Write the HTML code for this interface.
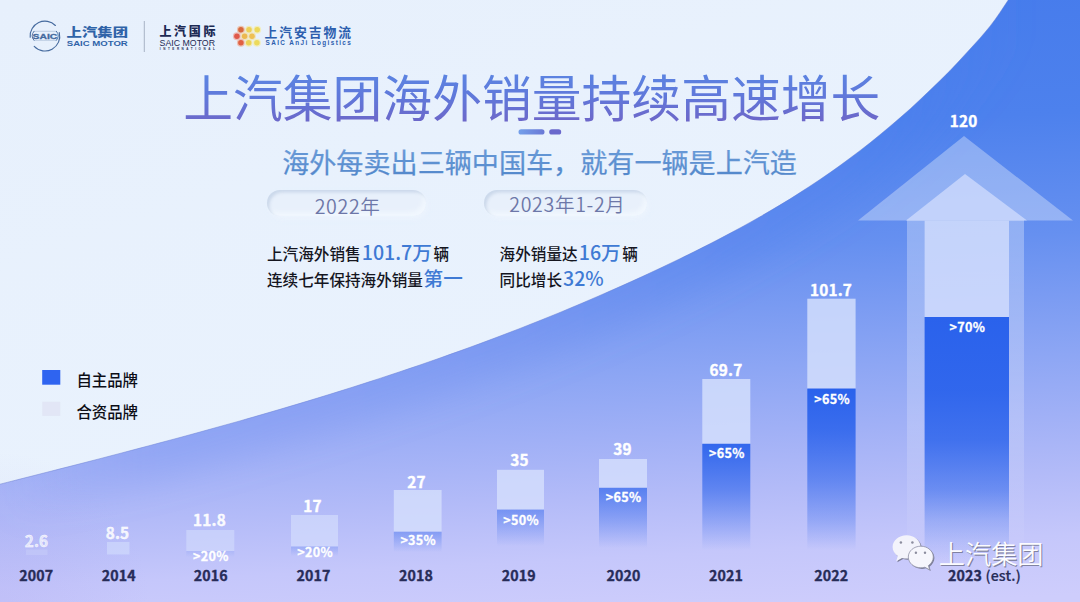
<!DOCTYPE html>
<html lang="zh-CN">
<head>
<meta charset="utf-8">
<title>上汽集团海外销量持续高速增长</title>
<style>
html,body{margin:0;padding:0;background:#e9f2fc;}
body{width:1080px;height:602px;overflow:hidden;position:relative;}
svg{display:block;position:absolute;left:0;top:0;}
.cn{font-family:"Noto Sans CJK SC","Liberation Sans",sans-serif;}
.la{font-family:"Liberation Sans","Noto Sans CJK SC",sans-serif;}
.val{font-size:15.3px;font-weight:700;fill:#fff;text-anchor:middle;stroke:#fff;stroke-width:0.4px;letter-spacing:0.2px;}
.pct{font-size:12.6px;font-weight:700;fill:#fff;text-anchor:middle;letter-spacing:0.3px;stroke:#fff;stroke-width:0.3px;}
.pill{position:absolute;box-sizing:border-box;border-radius:14px;background:#e8f0fb;text-align:center;font-size:19.6px;font-weight:350;letter-spacing:0.65px;color:#6d77a8;white-space:nowrap;
 box-shadow:inset 2.5px 2.5px 3px rgba(150,172,205,.34), inset -3px -4px 5px rgba(244,249,255,.75), 2px 3px 5px rgba(244,249,255,.35);}
.hl{font-size:19.6px;font-weight:500;fill:#3f7ad4;}
.yr{font-size:14.2px;font-weight:700;fill:#272c58;text-anchor:middle;stroke:#272c58;stroke-width:0.35px;letter-spacing:0.15px;}
</style>
</head>
<body>
<svg width="1080" height="602" viewBox="0 0 1080 602">
<defs>
  <linearGradient id="gLight" x1="0" y1="0" x2="0.6" y2="1">
    <stop offset="0" stop-color="#e7f0fc"/>
    <stop offset="1" stop-color="#eaf3fe"/>
  </linearGradient>
  <linearGradient id="gBlue" gradientUnits="userSpaceOnUse" x1="0" y1="45" x2="30" y2="647">
    <stop offset="0" stop-color="#477cec"/>
    <stop offset="0.2" stop-color="#4d81ed"/>
    <stop offset="0.4" stop-color="#6690f0"/>
    <stop offset="0.5" stop-color="#7a9bf2"/>
    <stop offset="0.6" stop-color="#8da6f4"/>
    <stop offset="0.7" stop-color="#a0b0f6"/>
    <stop offset="0.8" stop-color="#b3bbf8"/>
    <stop offset="0.9" stop-color="#c5c7fb"/>
    <stop offset="1" stop-color="#cecdfc"/>
  </linearGradient>
  <linearGradient id="gShaft" gradientUnits="userSpaceOnUse" x1="0" y1="220" x2="0" y2="565">
    <stop offset="0" stop-color="#fff" stop-opacity="0.3"/>
    <stop offset="0.6" stop-color="#fff" stop-opacity="0.2"/>
    <stop offset="1" stop-color="#fff" stop-opacity="0"/>
  </linearGradient>
    <linearGradient id="gb2" gradientUnits="userSpaceOnUse" x1="0" y1="551" x2="0" y2="557"><stop offset="0.000" stop-color="#2a62ec" stop-opacity="0.1"/><stop offset="1.000" stop-color="#2a62ec" stop-opacity="0"/></linearGradient>
  <linearGradient id="gb3" gradientUnits="userSpaceOnUse" x1="0" y1="546.5" x2="0" y2="556"><stop offset="0.000" stop-color="#2a62ec" stop-opacity="0.22"/><stop offset="1.000" stop-color="#2a62ec" stop-opacity="0"/></linearGradient>
  <linearGradient id="gb4" gradientUnits="userSpaceOnUse" x1="0" y1="531.7" x2="0" y2="552"><stop offset="0.000" stop-color="#2a62ec" stop-opacity="0.38"/><stop offset="1.000" stop-color="#2a62ec" stop-opacity="0"/></linearGradient>
  <linearGradient id="gb5" gradientUnits="userSpaceOnUse" x1="0" y1="509.6" x2="0" y2="546"><stop offset="0.000" stop-color="#2a62ec" stop-opacity="0.46"/><stop offset="1.000" stop-color="#2a62ec" stop-opacity="0"/></linearGradient>
  <linearGradient id="gb6" gradientUnits="userSpaceOnUse" x1="0" y1="487.8" x2="0" y2="548"><stop offset="0.000" stop-color="#2a62ec" stop-opacity="0.66"/><stop offset="0.535" stop-color="#2a62ec" stop-opacity="0.33"/><stop offset="1.000" stop-color="#2a62ec" stop-opacity="0"/></linearGradient>
  <linearGradient id="gb7" gradientUnits="userSpaceOnUse" x1="0" y1="443.8" x2="0" y2="550"><stop offset="0.000" stop-color="#2a62ec" stop-opacity="0.93"/><stop offset="0.435" stop-color="#2a62ec" stop-opacity="0.6"/><stop offset="0.718" stop-color="#2a62ec" stop-opacity="0.3"/><stop offset="1.000" stop-color="#2a62ec" stop-opacity="0"/></linearGradient>
  <linearGradient id="gb8" gradientUnits="userSpaceOnUse" x1="0" y1="388.6" x2="0" y2="550"><stop offset="0.000" stop-color="#2a62ec" stop-opacity="1"/><stop offset="0.257" stop-color="#2a62ec" stop-opacity="0.86"/><stop offset="0.566" stop-color="#2a62ec" stop-opacity="0.58"/><stop offset="0.814" stop-color="#2a62ec" stop-opacity="0.28"/><stop offset="1.000" stop-color="#2a62ec" stop-opacity="0"/></linearGradient>
  <linearGradient id="gb9" gradientUnits="userSpaceOnUse" x1="0" y1="317" x2="0" y2="562"><stop offset="0.000" stop-color="#2a62ec" stop-opacity="1"/><stop offset="0.298" stop-color="#2a62ec" stop-opacity="0.95"/><stop offset="0.502" stop-color="#2a62ec" stop-opacity="0.84"/><stop offset="0.706" stop-color="#2a62ec" stop-opacity="0.56"/><stop offset="0.829" stop-color="#2a62ec" stop-opacity="0.27"/><stop offset="0.931" stop-color="#2a62ec" stop-opacity="0.1"/><stop offset="1.000" stop-color="#2a62ec" stop-opacity="0"/></linearGradient>

  <linearGradient id="gTitle" x1="0" y1="0" x2="0.04" y2="1">
    <stop offset="0.12" stop-color="#5a88e4"/>
    <stop offset="0.55" stop-color="#6078da"/>
    <stop offset="0.95" stop-color="#6f64c6"/>
  </linearGradient>
  <linearGradient id="gSub" x1="0" y1="0" x2="0" y2="1">
    <stop offset="0.1" stop-color="#6c9edb"/>
    <stop offset="0.9" stop-color="#5287ca"/>
  </linearGradient>
  <linearGradient id="gDeco" x1="0" y1="0" x2="1" y2="0">
    <stop offset="0" stop-color="#74a0ea"/>
    <stop offset="1" stop-color="#6a78d6"/>
  </linearGradient>
  <linearGradient id="gPill" x1="0" y1="0" x2="0.12" y2="1">
    <stop offset="0" stop-color="#d2ddee"/>
    <stop offset="0.28" stop-color="#e3ebf7"/>
    <stop offset="0.6" stop-color="#ecf3fc"/>
    <stop offset="1" stop-color="#f4f9ff"/>
  </linearGradient>
  <radialGradient id="gCorner" gradientUnits="userSpaceOnUse" cx="0" cy="602" r="150">
    <stop offset="0" stop-color="#a89fec" stop-opacity="0.2"/>
    <stop offset="1" stop-color="#a49ceb" stop-opacity="0"/>
  </radialGradient>
  <clipPath id="cpBlue"><path d="M0,484.2 C13,480.8 27,477.4 40,474.0 C53,470.6 67,467.2 80,463.8 C93,460.4 107,456.9 120,453.4 C133,449.9 147,446.4 160,442.8 C173,439.3 187,435.7 200,432.0 C213,428.3 227,424.6 240,420.9 C253,417.1 267,413.2 280,409.3 C293,405.4 307,401.4 320,397.3 C333,393.2 347,389.1 360,384.8 C373,380.5 387,376.2 400,371.7 C413,367.3 427,362.7 440,358.0 C453,353.3 467,348.5 480,343.6 C493,338.6 507,333.6 520,328.4 C533,323.2 547,317.8 560,312.4 C573,306.9 587,301.2 600,295.4 C613,289.6 627,283.7 640,277.6 C653,271.4 667,265.2 680,258.7 C693,252.2 707,245.6 720,238.6 C733,231.6 747,224.4 760,216.8 C773,209.1 787,201.2 800,192.6 C813,184.1 827,175.1 840,165.5 C853,155.8 867,145.7 880,134.7 C893,123.8 907,112.2 920,99.7 C933,87.2 947,74.5 960,60.0 C973,45.4 987,32.0 1000,12.4 C1013,-7.1 1027,-27.6 1040,-57.5 L1080,-50 L1080,602 L0,602 Z"/></clipPath>
  <linearGradient id="gHug" gradientUnits="userSpaceOnUse" x1="0" y1="0" x2="1080" y2="0">
    <stop offset="0" stop-color="#7a93f1" stop-opacity="0"/>
    <stop offset="0.14" stop-color="#7a93f1" stop-opacity="0.3"/>
    <stop offset="0.45" stop-color="#6f8df0" stop-opacity="0.3"/>
    <stop offset="0.68" stop-color="#5682ee" stop-opacity="0.34"/>
    <stop offset="0.82" stop-color="#4a7eed" stop-opacity="0.35"/>
    <stop offset="0.95" stop-color="#4a7eed" stop-opacity="0"/>
  </linearGradient>
  <filter id="fHug" x="-10%" y="-30%" width="120%" height="160%"><feGaussianBlur stdDeviation="16"/></filter>
  <filter id="fPill" x="-5%" y="-20%" width="110%" height="140%"><feGaussianBlur stdDeviation="1.3"/></filter>
  <filter id="fDot2" x="-20%" y="-20%" width="140%" height="140%"><feGaussianBlur stdDeviation="0.35"/></filter>
  <filter id="fDot" x="-50%" y="-50%" width="200%" height="200%"><feGaussianBlur stdDeviation="0.7"/></filter>

</defs>
<!-- BACKGROUND -->
<rect width="1080" height="602" fill="url(#gLight)"/>
<path d="M0,484.2 C13,480.8 27,477.4 40,474.0 C53,470.6 67,467.2 80,463.8 C93,460.4 107,456.9 120,453.4 C133,449.9 147,446.4 160,442.8 C173,439.3 187,435.7 200,432.0 C213,428.3 227,424.6 240,420.9 C253,417.1 267,413.2 280,409.3 C293,405.4 307,401.4 320,397.3 C333,393.2 347,389.1 360,384.8 C373,380.5 387,376.2 400,371.7 C413,367.3 427,362.7 440,358.0 C453,353.3 467,348.5 480,343.6 C493,338.6 507,333.6 520,328.4 C533,323.2 547,317.8 560,312.4 C573,306.9 587,301.2 600,295.4 C613,289.6 627,283.7 640,277.6 C653,271.4 667,265.2 680,258.7 C693,252.2 707,245.6 720,238.6 C733,231.6 747,224.4 760,216.8 C773,209.1 787,201.2 800,192.6 C813,184.1 827,175.1 840,165.5 C853,155.8 867,145.7 880,134.7 C893,123.8 907,112.2 920,99.7 C933,87.2 947,74.5 960,60.0 C973,45.4 987,32.0 1000,12.4 C1013,-7.1 1027,-27.6 1040,-57.5 L1080,-50 L1080,602 L0,602 Z" fill="url(#gBlue)"/>
<path d="M0,484.2 C13,480.8 27,477.4 40,474.0 C53,470.6 67,467.2 80,463.8 C93,460.4 107,456.9 120,453.4 C133,449.9 147,446.4 160,442.8 C173,439.3 187,435.7 200,432.0 C213,428.3 227,424.6 240,420.9 C253,417.1 267,413.2 280,409.3 C293,405.4 307,401.4 320,397.3 C333,393.2 347,389.1 360,384.8 C373,380.5 387,376.2 400,371.7 C413,367.3 427,362.7 440,358.0 C453,353.3 467,348.5 480,343.6 C493,338.6 507,333.6 520,328.4 C533,323.2 547,317.8 560,312.4 C573,306.9 587,301.2 600,295.4 C613,289.6 627,283.7 640,277.6 C653,271.4 667,265.2 680,258.7 C693,252.2 707,245.6 720,238.6 C733,231.6 747,224.4 760,216.8 C773,209.1 787,201.2 800,192.6 C813,184.1 827,175.1 840,165.5 C853,155.8 867,145.7 880,134.7 C893,123.8 907,112.2 920,99.7 C933,87.2 947,74.5 960,60.0 C973,45.4 987,32.0 1000,12.4 C1013,-7.1 1027,-27.6 1040,-57.5" fill="none" stroke="#6478cc" stroke-width="0.9" stroke-opacity="0.5"/>
<g clip-path="url(#cpBlue)"><path d="M0,484.2 C13,480.8 27,477.4 40,474.0 C53,470.6 67,467.2 80,463.8 C93,460.4 107,456.9 120,453.4 C133,449.9 147,446.4 160,442.8 C173,439.3 187,435.7 200,432.0 C213,428.3 227,424.6 240,420.9 C253,417.1 267,413.2 280,409.3 C293,405.4 307,401.4 320,397.3 C333,393.2 347,389.1 360,384.8 C373,380.5 387,376.2 400,371.7 C413,367.3 427,362.7 440,358.0 C453,353.3 467,348.5 480,343.6 C493,338.6 507,333.6 520,328.4 C533,323.2 547,317.8 560,312.4 C573,306.9 587,301.2 600,295.4 C613,289.6 627,283.7 640,277.6 C653,271.4 667,265.2 680,258.7 C693,252.2 707,245.6 720,238.6 C733,231.6 747,224.4 760,216.8 C773,209.1 787,201.2 800,192.6 C813,184.1 827,175.1 840,165.5 C853,155.8 867,145.7 880,134.7 C893,123.8 907,112.2 920,99.7 C933,87.2 947,74.5 960,60.0 C973,45.4 987,32.0 1000,12.4 C1013,-7.1 1027,-27.6 1040,-57.5" fill="none" stroke="url(#gHug)" stroke-width="70" filter="url(#fHug)"/></g>
<rect x="0" y="440" width="200" height="162" fill="url(#gCorner)"/>
<!-- ARROW -->
<g id="arrow">
  <polygon points="964,136 1073,220.6 858,220.6" fill="#fff" fill-opacity="0.33"/>
  <rect x="907" y="220" width="117" height="345" fill="url(#gShaft)"/>
  <polygon points="965,174 1027,220.6 906,220.6" fill="#d6e0fd" fill-opacity="0.7"/>
  <rect x="924.6" y="220.6" width="84.4" height="96.4" fill="#d6e0fd" fill-opacity="0.74"/>
</g>
<!-- BARS -->
<g id="bars">
  <rect x="26" y="549.5" width="21.5" height="5.5" fill="#d6e0fd" fill-opacity="0.25"/>
  <rect x="107" y="542" width="22.5" height="12.5" fill="#d6e0fd" fill-opacity="0.55"/>
  <rect x="186.3" y="530" width="48.0" height="21.0" fill="#d6e0fd" fill-opacity="0.52"/>
  <rect x="186.3" y="551" width="48.0" height="6.0" fill="url(#gb2)"/>
  <rect x="291" y="515" width="47.0" height="31.5" fill="#d6e0fd" fill-opacity="0.62"/>
  <rect x="291" y="546.5" width="47.0" height="9.5" fill="url(#gb3)"/>
  <rect x="393.8" y="490" width="47.8" height="41.7" fill="#d6e0fd" fill-opacity="0.78"/>
  <rect x="393.8" y="531.7" width="47.8" height="20.3" fill="url(#gb4)"/>
  <rect x="497" y="469.8" width="47.0" height="39.8" fill="#d6e0fd" fill-opacity="0.8"/>
  <rect x="497" y="509.6" width="47.0" height="36.4" fill="url(#gb5)"/>
  <rect x="599" y="459" width="48.0" height="28.8" fill="#d6e0fd" fill-opacity="0.8"/>
  <rect x="599" y="487.8" width="48.0" height="60.2" fill="url(#gb6)"/>
  <rect x="702.3" y="379" width="48.0" height="64.8" fill="#d6e0fd" fill-opacity="0.82"/>
  <rect x="702.3" y="443.8" width="48.0" height="106.2" fill="url(#gb7)"/>
  <rect x="807.3" y="298.7" width="48.3" height="89.9" fill="#d6e0fd" fill-opacity="0.82"/>
  <rect x="807.3" y="388.6" width="48.3" height="161.4" fill="url(#gb8)"/>
  <rect x="924.6" y="317" width="84.4" height="245.0" fill="url(#gb9)"/>
</g>
<!-- BAR LABELS -->
<g id="labels">
  <text x="36.5" y="547" class="cn val" fill-opacity="0.62">2.6</text>
  <text x="36.3" y="581.2" class="cn yr">2007</text>
  <text x="117.5" y="539" class="cn val" fill-opacity="0.85">8.5</text>
  <text x="118.7" y="581.2" class="cn yr">2014</text>
  <text x="209.5" y="525.6" class="cn val" fill-opacity="0.95">11.8</text>
  <text x="210.8" y="561.3" class="cn pct">&gt;20%</text>
  <text x="210.7" y="581.2" class="cn yr">2016</text>
  <text x="312.5" y="511.5" class="cn val" fill-opacity="1">17</text>
  <text x="315.0" y="557.4" class="cn pct">&gt;20%</text>
  <text x="313.5" y="581.2" class="cn yr">2017</text>
  <text x="416.5" y="487.8" class="cn val" fill-opacity="1">27</text>
  <text x="418.2" y="545" class="cn pct">&gt;35%</text>
  <text x="416" y="581.2" class="cn yr">2018</text>
  <text x="519.5" y="466" class="cn val" fill-opacity="1">35</text>
  <text x="521.0" y="524.5" class="cn pct">&gt;50%</text>
  <text x="518.7" y="581.2" class="cn yr">2019</text>
  <text x="622.5" y="455.4" class="cn val" fill-opacity="1">39</text>
  <text x="623.5" y="502.4" class="cn pct">&gt;65%</text>
  <text x="623.5" y="581.2" class="cn yr">2020</text>
  <text x="726" y="376" class="cn val" fill-opacity="1">69.7</text>
  <text x="726.8" y="457.6" class="cn pct">&gt;65%</text>
  <text x="726" y="581.2" class="cn yr">2021</text>
  <text x="831" y="296" class="cn val" fill-opacity="1">101.7</text>
  <text x="832.0" y="403.5" class="cn pct">&gt;65%</text>
  <text x="831.3" y="581.2" class="cn yr">2022</text>
  <text x="963.6" y="126.6" class="cn val" fill-opacity="1">120</text>
  <text x="967.3" y="332" class="cn pct">&gt;70%</text>
  <text x="948" y="581.2" class="cn yr" style="text-anchor:start">2023 <tspan font-weight="500" stroke-width="0.2">(est.)</tspan></text>
</g>

<g id="logo-saic">
  <g fill="none" stroke="#456a9e" stroke-width="1.1" stroke-linecap="round">
    <path d="M30.2,37.2 A14.8,14.8 0 0 1 55.4,25.5"/>
    <path d="M59.3,32.6 A14.8,14.8 0 0 1 34.2,46.4"/>
    <path d="M34,31.3 Q30,35.8 34,40.3 M56.4,31.3 Q60.4,35.8 56.4,40.3" stroke-width="0.9"/><path d="M34,31.3 H56.4 M34,40.3 H56.4" stroke-width="0.6" stroke-opacity="0.45"/>
  </g>
  <text class="la" x="32.5" y="38.6" font-size="7.9" font-weight="700" fill="#456a9e" stroke="#456a9e" stroke-width="0.3" textLength="24.8" lengthAdjust="spacingAndGlyphs">SAIC</text>
  <text class="cn" x="66.6" y="36.7" font-size="12" font-weight="900" fill="#2f63a8" textLength="61.4" lengthAdjust="spacingAndGlyphs">上汽集团</text>
  <text class="la" x="66.8" y="45.8" font-size="6.7" font-weight="700" fill="#2f63a8" textLength="61" lengthAdjust="spacingAndGlyphs">SAIC MOTOR</text>
</g>
<line x1="144.3" y1="21" x2="144.3" y2="52" stroke="#98a2b6" stroke-width="0.8"/>
<g id="logo-intl" fill="#1c2a54">
  <text class="cn" x="159.4" y="35.5" font-size="12" font-weight="900" textLength="56" lengthAdjust="spacing">上汽国际</text>
  <text class="la" x="159.6" y="45.8" font-size="8.3" font-weight="400" textLength="55.4" lengthAdjust="spacingAndGlyphs">SAIC MOTOR</text>
  <text class="la" x="159.8" y="50" font-size="3" font-weight="700" textLength="55" lengthAdjust="spacing">INTERNATIONAL</text>
</g>
<g id="logo-anji">
  <g filter="url(#fDot)" opacity="0.55">
    <circle cx="240.9" cy="29.8" r="4" fill="#f0a070"/><circle cx="249" cy="29.8" r="4" fill="#f8e68a"/><circle cx="257.2" cy="29.8" r="4" fill="#f8ec90"/>
    <circle cx="236.9" cy="36.3" r="4" fill="#f09080"/><circle cx="244.6" cy="36.3" r="4" fill="#f8d888"/><circle cx="252" cy="36.3" r="4" fill="#f8dc88"/>
    <circle cx="240.9" cy="42.8" r="4" fill="#f09878"/><circle cx="248.7" cy="42.8" r="4" fill="#f8e68a"/><circle cx="256.9" cy="42.8" r="4" fill="#f8ec90"/>
  </g>
  <g filter="url(#fDot2)"><circle cx="240.9" cy="29.8" r="2.75" fill="#d8683e"/><circle cx="249" cy="29.8" r="2.75" fill="#ecd056"/><circle cx="257.2" cy="29.8" r="2.75" fill="#ecd85a"/>
  <circle cx="236.9" cy="36.3" r="2.75" fill="#df584a"/><circle cx="244.6" cy="36.3" r="2.75" fill="#ecb850"/><circle cx="252" cy="36.3" r="2.75" fill="#eec052"/>
  <circle cx="240.9" cy="42.8" r="2.75" fill="#e06042"/><circle cx="248.7" cy="42.8" r="2.75" fill="#ecd256"/><circle cx="256.9" cy="42.8" r="2.75" fill="#ecda5c"/></g>
  <text class="cn" x="264.4" y="37.2" font-size="12.8" font-weight="700" fill="#2c5eae" textLength="86.6" lengthAdjust="spacing">上汽安吉物流</text>
  <text class="la" x="265.6" y="45.1" font-size="6.4" font-weight="700" fill="#2c5eae" textLength="85.2" lengthAdjust="spacing">SAIC AnJi Logistics</text>
</g>


<g id="title">
  <text class="cn" x="183.2" y="116.8" font-size="49.8" font-weight="400" fill="url(#gTitle)">上汽集团海外销量持续高速增长</text>
  <rect x="518.5" y="129.3" width="26" height="5.3" rx="2.65" fill="url(#gDeco)"/>
  <rect x="549.2" y="129.3" width="12" height="5.3" rx="2.65" fill="#6a68cc"/>
  <text class="cn" x="282.2" y="172.5" font-size="27.1" font-weight="400" fill="url(#gSub)" stroke="#5f92d2" stroke-width="0.25">海外每卖出三辆中国车，就有一辆是上汽造</text>
</g>

<g id="copy" class="cn" font-size="15.6" font-weight="500" fill="#15161f">
  <text x="267" y="260">上汽海外销售<tspan class="hl" dx="1.2">101.7万</tspan><tspan dx="1.6">辆</tspan></text>
  <text x="267" y="286">连续七年保持海外销量<tspan class="hl" dx="0.6">第一</tspan></text>
  <text x="499.6" y="260">海外销量达<tspan class="hl" dx="1.2">16万</tspan><tspan dx="1.6">辆</tspan></text>
  <text x="499.6" y="285.5">同比增长<tspan class="hl" dx="1">32%</tspan></text>
</g>
<g id="legend" class="cn" font-size="15.4" font-weight="500" fill="#0c0d16">
  <rect x="42.2" y="370" width="18.1" height="14.7" fill="#2f64f0"/>
  <rect x="42.2" y="401.7" width="18.1" height="14.2" fill="#e2e6f6"/>
  <text x="76.4" y="386">自主品牌</text>
  <text x="76.4" y="418.3">合资品牌</text>
</g>


<g id="watermark">
  <g transform="translate(1.1,1.1)" fill="#6f7186" fill-opacity="0.85">
    <path d="M906.6,535.2 c-7.8,0 -14,5.2 -14,11.7 c0,3.7 2,6.9 5.2,9.1 l-1.6,5.2 l5.8,-3.2 c1.5,0.4 3,0.6 4.6,0.6 c7.8,0 14,-5.2 14,-11.7 s-6.2,-11.7 -14,-11.7 z"/>
    <path d="M920.8,546.2 c-6.9,0 -12.5,4.8 -12.5,10.8 s5.6,10.8 12.5,10.8 c1.4,0 2.800,-0.2 4.100,-0.600 l4.800,2.700 l-1.300,-4.300 c2.900,-2 4.900,-5.100 4.900,-8.600 c0,-6 -5.600,-10.800 -12.500,-10.800 z"/>
  </g>
  <path d="M906.6,535.2 c-7.8,0 -14,5.2 -14,11.7 c0,3.7 2,6.900 5.200,9.100 l-1.600,5.200 l5.800,-3.200 c1.500,0.400 3,0.600 4.600,0.600 c7.800,0 14,-5.200 14,-11.700 s-6.200,-11.700 -14,-11.700 z" fill="#f3f3fb"/>
  <path d="M920.8,546.2 c-6.900,0 -12.500,4.800 -12.500,10.800 s5.600,10.800 12.500,10.800 c1.400,0 2.800,-0.200 4.100,-0.600 l4.800,2.700 l-1.300,-4.300 c2.900,-2 4.900,-5.100 4.900,-8.600 c0,-6 -5.600,-10.800 -12.500,-10.800 z" fill="#f6f6fc" stroke="#8f90a6" stroke-width="0.8"/>
  <g fill="#8c8d9e">
    <circle cx="900.9" cy="542.6" r="1.25"/><circle cx="912.4" cy="542.6" r="1.25"/>
    <circle cx="915.9" cy="552.7" r="1.2"/><circle cx="925" cy="552.7" r="1.2"/>
  </g>
  <text class="cn" x="939.8" y="565" font-size="26.2" font-weight="400" fill="#6a6c84" fill-opacity="0.75">上汽集团</text>
  <text class="cn" x="938.8" y="564" font-size="26.2" font-weight="350" fill="#fcfcff">上汽集团</text>
</g>

</svg>
<div class="pill cn" style="left:266.5px;top:189.6px;width:159.5px;height:26.6px;line-height:31.6px;padding-left:2.8px;">2022年</div>
<div class="pill cn" style="left:484px;top:189.6px;width:162.5px;height:26.6px;line-height:27px;padding-left:4.4px;">2023年1-2月</div>
</body>
</html>
